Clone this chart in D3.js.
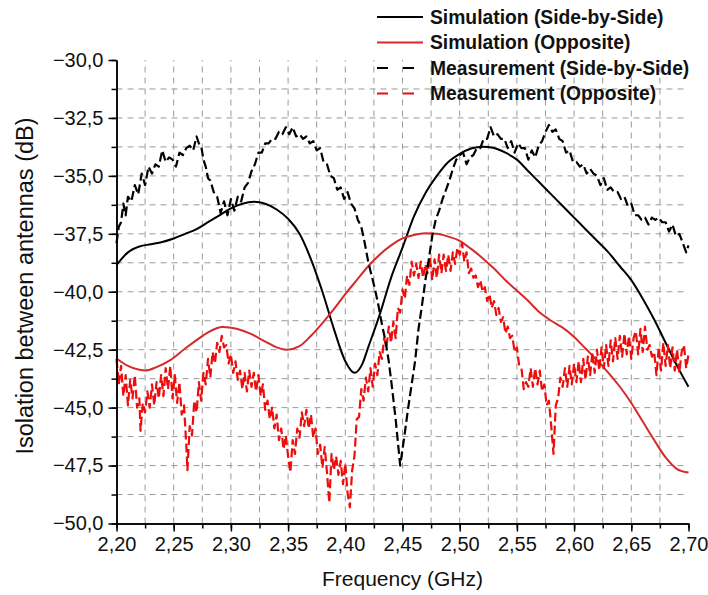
<!DOCTYPE html>
<html><head><meta charset="utf-8">
<script src="https://cdn.jsdelivr.net/npm/d3@7"></script>
<style>
body{margin:0;background:#fff}
svg{display:block}
text{font-family:"Liberation Sans",Arial,sans-serif}
</style>
</head><body>
<svg id="chart" width="708" height="595"></svg>
<script>
// ---------- DATA ----------
const xTickValues = [2.20,2.25,2.30,2.35,2.40,2.45,2.50,2.55,2.60,2.65,2.70];
const yTickValues = [-50,-47.5,-45,-42.5,-40,-37.5,-35,-32.5,-30];
const seriesNames = ["Simulation (Side-by-Side)","Simulation (Opposite)","Measurement (Side-by-Side)","Measurement (Opposite)"];
const xTitle = "Frequency (GHz)";
const yTitle = "Isolation between antennas (dB)";

const simSideBySide = [
[2.200,-38.85],[2.210,-38.3],[2.220,-38.05],[2.230,-37.95],[2.240,-37.85],[2.250,-37.7],
[2.260,-37.5],[2.270,-37.3],[2.280,-37.0],[2.290,-36.7],[2.300,-36.4],[2.310,-36.2],
[2.320,-36.12],[2.330,-36.2],[2.340,-36.45],[2.350,-36.85],[2.360,-37.5],[2.370,-38.6],
[2.380,-40.0],[2.390,-41.6],[2.400,-43.0],[2.408,-43.5],[2.415,-43.1],[2.420,-42.4],
[2.430,-41.0],[2.440,-39.4],[2.450,-38.1],[2.460,-36.75],[2.470,-35.75],[2.480,-35.0],
[2.490,-34.4],[2.500,-34.05],[2.510,-33.82],[2.520,-33.74],[2.530,-33.8],[2.540,-34.0],
[2.550,-34.3],[2.560,-34.8],[2.570,-35.3],[2.580,-35.8],[2.590,-36.3],[2.600,-36.8],
[2.610,-37.3],[2.620,-37.8],[2.630,-38.3],[2.640,-38.9],[2.650,-39.5],[2.660,-40.3],
[2.670,-41.2],[2.680,-42.2],[2.690,-43.2],[2.700,-44.1]
];

const simOpposite = [
[2.200,-42.88],[2.210,-43.2],[2.220,-43.37],[2.225,-43.4],[2.235,-43.25],[2.247,-42.95],
[2.260,-42.45],[2.270,-42.09],[2.280,-41.75],[2.293,-41.52],[2.305,-41.6],[2.317,-41.81],
[2.330,-42.15],[2.340,-42.4],[2.349,-42.5],[2.360,-42.35],[2.370,-41.9],[2.380,-41.35],
[2.390,-40.75],[2.400,-40.1],[2.410,-39.5],[2.420,-38.9],[2.430,-38.4],[2.440,-38.0],
[2.450,-37.7],[2.460,-37.55],[2.470,-37.48],[2.480,-37.5],[2.490,-37.62],[2.500,-37.8],
[2.510,-38.15],[2.520,-38.55],[2.530,-39.0],[2.540,-39.5],[2.550,-39.95],[2.560,-40.4],
[2.570,-40.9],[2.580,-41.25],[2.590,-41.55],[2.600,-41.95],[2.610,-42.45],[2.620,-42.95],
[2.630,-43.5],[2.640,-44.1],[2.650,-44.8],[2.660,-45.6],[2.670,-46.4],[2.680,-47.15],
[2.690,-47.65],[2.700,-47.8]
];

const measSideBySide = [
[2.200,-37.9],[2.202,-37.2],[2.204,-37.0],[2.206,-36.2],[2.208,-36.7],[2.210,-35.9],
[2.213,-36.1],[2.216,-35.4],[2.219,-35.8],[2.222,-34.9],[2.225,-35.4],[2.228,-34.6],
[2.231,-34.9],[2.234,-34.5],[2.237,-34.6],[2.240,-33.9],[2.243,-34.4],[2.246,-34.2],
[2.249,-34.3],[2.252,-34.6],[2.255,-34.0],[2.258,-34.1],[2.261,-33.8],[2.264,-33.7],
[2.267,-33.9],[2.270,-33.3],[2.272,-33.6],[2.274,-33.7],[2.276,-34.3],[2.278,-34.6],
[2.280,-35.1],[2.282,-35.2],[2.285,-35.7],[2.288,-35.9],[2.291,-36.6],[2.294,-36.1],
[2.297,-36.7],[2.300,-36.0],[2.303,-36.5],[2.306,-35.9],[2.309,-36.1],[2.312,-35.5],
[2.315,-35.3],[2.318,-34.8],[2.321,-34.5],[2.324,-34.0],[2.327,-34.0],[2.330,-33.6],
[2.333,-33.6],[2.336,-33.4],[2.339,-33.4],[2.342,-33.1],[2.345,-33.2],[2.348,-32.9],
[2.351,-33.2],[2.354,-32.9],[2.357,-33.3],[2.360,-33.2],[2.363,-33.4],[2.366,-33.3],
[2.369,-33.6],[2.372,-33.5],[2.375,-33.9],[2.378,-33.8],[2.381,-34.4],[2.384,-34.5],
[2.387,-35.0],[2.390,-35.1],[2.393,-35.6],[2.396,-35.5],[2.399,-36.0],[2.402,-35.7],
[2.405,-36.2],[2.408,-36.4],[2.411,-36.9],[2.414,-37.2],[2.417,-37.9],[2.420,-38.7],
[2.423,-39.3],[2.426,-39.9],[2.429,-40.6],[2.432,-41.4],[2.435,-42.1],[2.438,-43.0],
[2.441,-44.2],[2.444,-45.5],[2.446,-46.5],[2.448,-47.5],[2.450,-46.8],[2.452,-46.1],
[2.455,-45.0],[2.458,-44.0],[2.461,-43.0],[2.464,-41.6],[2.467,-40.6],[2.470,-39.5],
[2.473,-38.6],[2.476,-37.6],[2.479,-36.9],[2.482,-36.5],[2.485,-36.0],[2.488,-35.6],
[2.491,-35.2],[2.494,-34.7],[2.497,-34.3],[2.500,-34.1],[2.503,-34.0],[2.506,-34.5],
[2.509,-34.2],[2.512,-34.1],[2.515,-33.8],[2.518,-33.8],[2.521,-33.4],[2.524,-33.4],
[2.527,-32.9],[2.530,-33.3],[2.533,-33.2],[2.536,-33.4],[2.539,-33.4],[2.542,-33.8],
[2.545,-33.5],[2.548,-34.0],[2.551,-33.6],[2.554,-33.8],[2.557,-33.8],[2.560,-34.3],
[2.563,-33.9],[2.566,-34.2],[2.569,-33.7],[2.572,-33.5],[2.575,-33.1],[2.578,-32.8],
[2.581,-33.1],[2.584,-33.0],[2.587,-33.4],[2.590,-33.5],[2.593,-34.0],[2.596,-33.9],
[2.599,-34.4],[2.602,-34.4],[2.605,-34.6],[2.608,-34.5],[2.611,-34.9],[2.614,-34.7],
[2.617,-34.9],[2.620,-35.0],[2.623,-35.4],[2.626,-35.1],[2.629,-35.6],[2.632,-35.5],
[2.635,-35.7],[2.638,-35.7],[2.641,-36.0],[2.644,-35.9],[2.647,-36.3],[2.650,-36.2],
[2.653,-36.7],[2.656,-36.7],[2.659,-36.9],[2.662,-36.8],[2.665,-37.1],[2.668,-36.8],
[2.671,-36.9],[2.674,-36.8],[2.677,-37.0],[2.680,-37.0],[2.683,-37.4],[2.686,-37.1],
[2.689,-37.6],[2.692,-37.5],[2.695,-37.9],[2.698,-38.3],[2.700,-38.0]
];

const measOpposite = [
[2.200,-42.9],[2.202,-44.0],[2.204,-43.2],[2.206,-44.5],[2.208,-43.6],[2.210,-44.9],
[2.212,-43.8],[2.214,-44.6],[2.216,-43.6],[2.218,-45.0],[2.220,-44.6],[2.221,-46.0],
[2.223,-44.8],[2.225,-45.2],[2.227,-44.3],[2.229,-45.0],[2.231,-44.0],[2.233,-44.9],
[2.235,-43.9],[2.237,-44.6],[2.239,-43.6],[2.241,-44.5],[2.243,-43.3],[2.245,-44.2],
[2.247,-43.2],[2.249,-44.6],[2.251,-43.6],[2.253,-44.8],[2.255,-43.9],[2.257,-45.3],
[2.259,-44.9],[2.261,-46.6],[2.262,-47.7],[2.264,-45.8],[2.266,-46.2],[2.268,-44.7],
[2.270,-45.2],[2.272,-43.9],[2.274,-44.7],[2.276,-43.5],[2.278,-44.0],[2.280,-42.9],
[2.282,-43.7],[2.284,-42.6],[2.286,-43.1],[2.288,-42.2],[2.290,-42.6],[2.292,-41.9],
[2.294,-42.4],[2.296,-42.3],[2.298,-43.1],[2.300,-42.7],[2.302,-43.5],[2.304,-43.0],
[2.306,-43.8],[2.308,-43.4],[2.310,-44.2],[2.312,-43.5],[2.314,-44.3],[2.316,-43.4],
[2.318,-44.1],[2.320,-43.5],[2.322,-44.3],[2.324,-43.6],[2.326,-44.5],[2.328,-44.0],
[2.330,-45.1],[2.332,-44.7],[2.334,-45.5],[2.336,-45.0],[2.338,-45.9],[2.340,-45.3],
[2.342,-46.4],[2.344,-45.9],[2.346,-46.8],[2.348,-46.2],[2.350,-47.1],[2.352,-47.8],
[2.354,-46.4],[2.356,-47.0],[2.358,-45.9],[2.360,-46.3],[2.362,-45.2],[2.364,-45.8],
[2.366,-45.1],[2.368,-45.9],[2.370,-45.3],[2.372,-46.3],[2.374,-45.9],[2.376,-47.0],
[2.378,-46.6],[2.380,-47.6],[2.382,-46.7],[2.384,-47.8],[2.386,-49.1],[2.388,-47.0],
[2.390,-47.7],[2.392,-47.1],[2.394,-47.9],[2.396,-47.3],[2.398,-48.3],[2.400,-47.4],
[2.402,-48.7],[2.404,-49.3],[2.406,-47.7],[2.408,-47.1],[2.410,-45.5],[2.412,-45.4],
[2.414,-44.2],[2.416,-44.7],[2.418,-43.7],[2.420,-44.3],[2.422,-43.3],[2.424,-44.1],
[2.426,-43.1],[2.428,-43.6],[2.430,-42.6],[2.432,-42.9],[2.434,-42.0],[2.436,-42.4],
[2.438,-41.5],[2.440,-42.2],[2.442,-41.3],[2.444,-42.0],[2.446,-40.7],[2.448,-40.9],
[2.450,-39.9],[2.452,-40.3],[2.454,-39.3],[2.456,-39.7],[2.458,-38.7],[2.460,-39.3],
[2.462,-38.8],[2.464,-39.4],[2.466,-38.7],[2.468,-39.4],[2.470,-38.8],[2.472,-39.2],
[2.474,-38.5],[2.476,-39.5],[2.478,-38.6],[2.480,-39.4],[2.482,-38.4],[2.484,-39.2],
[2.486,-38.4],[2.488,-39.1],[2.490,-38.4],[2.492,-39.1],[2.494,-38.3],[2.496,-38.8],
[2.498,-38.1],[2.500,-38.4],[2.502,-37.9],[2.504,-38.7],[2.506,-38.3],[2.508,-39.2],
[2.510,-39.0],[2.512,-39.4],[2.514,-39.3],[2.516,-39.8],[2.518,-39.5],[2.520,-40.0],
[2.522,-39.8],[2.524,-40.4],[2.526,-40.1],[2.528,-40.7],[2.530,-40.4],[2.532,-41.0],
[2.534,-40.7],[2.536,-41.3],[2.538,-41.1],[2.540,-41.8],[2.542,-41.5],[2.544,-42.0],
[2.546,-41.9],[2.548,-42.6],[2.550,-42.4],[2.552,-43.2],[2.554,-43.3],[2.556,-44.2],
[2.558,-43.9],[2.560,-44.1],[2.562,-43.3],[2.564,-44.1],[2.566,-43.3],[2.568,-44.0],
[2.570,-43.4],[2.572,-44.3],[2.574,-44.0],[2.576,-44.9],[2.578,-44.7],[2.580,-45.8],
[2.582,-47.0],[2.584,-44.9],[2.586,-44.6],[2.588,-43.7],[2.590,-44.1],[2.592,-43.3],
[2.594,-44.1],[2.596,-43.2],[2.598,-44.0],[2.600,-43.1],[2.602,-43.9],[2.604,-43.0],
[2.606,-43.9],[2.608,-42.9],[2.610,-43.8],[2.612,-42.8],[2.614,-43.6],[2.616,-42.6],
[2.618,-43.5],[2.620,-42.5],[2.622,-43.4],[2.624,-42.4],[2.626,-43.3],[2.628,-42.3],
[2.630,-43.2],[2.632,-42.1],[2.634,-43.0],[2.636,-42.0],[2.638,-42.9],[2.640,-41.9],
[2.642,-42.8],[2.644,-41.8],[2.646,-42.7],[2.648,-41.9],[2.650,-42.9],[2.652,-42.0],
[2.654,-41.7],[2.656,-42.7],[2.658,-41.6],[2.660,-42.6],[2.662,-41.5],[2.664,-42.5],
[2.666,-42.3],[2.668,-42.8],[2.670,-42.6],[2.672,-43.6],[2.674,-42.4],[2.676,-43.4],
[2.678,-42.2],[2.680,-43.2],[2.682,-42.3],[2.684,-43.3],[2.686,-42.4],[2.688,-43.4],
[2.690,-42.5],[2.692,-43.5],[2.694,-42.6],[2.696,-42.3],[2.698,-43.3],[2.700,-42.7]
];

// ---------- CHART ----------
const svg = d3.select("#chart");
const padL = 116.5, padR = 688.5, padT = 60, padB = 523.5;
const x = d3.scaleLinear().domain([2.2, 2.7]).range([padL, padR]);
const y = d3.scaleLinear().domain([-50, -30]).range([padB, padT]);
const comma = f => v => d3.format(f)(v).replace(".", ",");

const minorX = d3.range(0, 21).map(i => 2.2 + i * 0.025);
const minorY = d3.range(0, 17).map(i => -50 + i * 1.25);

// grid
const grid = svg.append("g").attr("stroke", "#9a9a9a").attr("stroke-width", 1)
  .attr("stroke-dasharray", "6,5").attr("fill", "none");
minorX.slice(1, -1).forEach(v => {
  grid.append("line").attr("x1", x(v)).attr("x2", x(v)).attr("y1", padB).attr("y2", padT);
});
minorY.slice(1, -1).forEach(v => {
  grid.append("line").attr("x1", padL).attr("x2", padR).attr("y1", y(v)).attr("y2", y(v));
});

// series
const lineSmooth = d3.line().x(d => x(d[0])).y(d => y(d[1])).curve(d3.curveMonotoneX);
const lineRaw = d3.line().x(d => x(d[0])).y(d => y(d[1]));
const styles = [
  {data: simSideBySide, color: "#000000", dash: null, gen: lineSmooth, w: 2},
  {data: simOpposite, color: "#d42a2a", dash: null, gen: lineSmooth, w: 2},
  {data: measSideBySide, color: "#000000", dash: "9,4", gen: lineRaw, w: 2.2},
  {data: measOpposite, color: "#ee0c0c", dash: "9,4", gen: lineRaw, w: 2.2}
];
const plot = svg.append("g");
[0, 1, 3, 2].forEach(i => {
  const s = styles[i];
  plot.append("path").attr("d", s.gen(s.data)).attr("fill", "none")
    .attr("stroke", s.color).attr("stroke-width", s.w)
    .attr("stroke-linejoin", "round")
    .attr("stroke-dasharray", s.dash);
});

// axes
const xAxisMinor = d3.axisBottom(x).tickValues(minorX).tickSize(5).tickFormat("").tickSizeOuter(0);
const xAxis = d3.axisBottom(x).tickValues(xTickValues).tickSize(8).tickSizeOuter(0).tickFormat(comma(".2f")).tickPadding(5);
const yAxisMinor = d3.axisLeft(y).tickValues(minorY).tickSize(5).tickFormat("").tickSizeOuter(0);
const yAxis = d3.axisLeft(y).tickValues(yTickValues).tickSize(8).tickSizeOuter(0).tickFormat(comma(".1f")).tickPadding(5);

function styleAxis(g) {
  g.select(".domain").attr("stroke", "#000").attr("stroke-width", 1.5);
  g.selectAll(".tick line").attr("stroke", "#000").attr("stroke-width", 1.5);
  g.selectAll(".tick text").attr("fill", "#111").style("font-size", "20px")
    .style("font-family", '"Liberation Sans", Arial, sans-serif');
}
svg.append("g").attr("transform", `translate(0,${padB})`).call(xAxisMinor).call(styleAxis);
svg.append("g").attr("transform", `translate(0,${padB})`).call(xAxis).call(styleAxis);
svg.append("g").attr("transform", `translate(${padL},0)`).call(yAxisMinor).call(styleAxis);
svg.append("g").attr("transform", `translate(${padL},0)`).call(yAxis).call(styleAxis);

// titles
svg.append("text").attr("x", (padL + padR) / 2).attr("y", 586).attr("text-anchor", "middle")
  .style("font-size", "21px").attr("fill", "#111").text(xTitle);
svg.append("text").attr("transform", `translate(33,286) rotate(-90)`)
  .attr("text-anchor", "middle").style("font-size", "23.5px").attr("fill", "#111").text(yTitle);

// legend
const legend = svg.append("g");
const legendY = [17, 42.5, 68, 93.5];
seriesNames.forEach((name, i) => {
  const s = styles[i];
  legend.append("line").attr("x1", 377).attr("x2", 423).attr("y1", legendY[i]).attr("y2", legendY[i])
    .attr("stroke", s.color).attr("stroke-width", 2)
    .attr("stroke-dasharray", s.dash ? "11,15" : null);
  legend.append("text").attr("x", 430).attr("y", legendY[i]).attr("dy", "0.36em")
    .style("font-size", "19.3px").style("font-weight", "bold").attr("fill", "#111").text(name);
});
</script>
</body></html>
